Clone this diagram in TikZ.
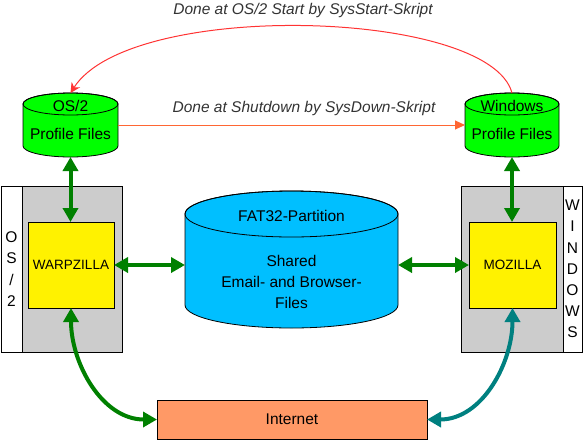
\documentclass[tikz,border=0pt]{standalone}
\usepackage{fontspec}
\setmainfont{Liberation Sans}
\usepackage{tikz}
\usepackage{xcolor}
\usetikzlibrary{arrows.meta}
\usetikzlibrary{calc}
\usetikzlibrary{positioning}

\definecolor{profgreen}{HTML}{00FF00}
\definecolor{fatblue}{HTML}{00BFFF}
\definecolor{boxgray}{HTML}{CCCCCC}
\definecolor{netorange}{HTML}{FF9966}
\definecolor{darkgreen}{HTML}{008000}
\definecolor{netteal}{HTML}{008080}
\definecolor{arcred}{HTML}{FF3333}
\definecolor{linered}{HTML}{FF6633}
\definecolor{notegray}{HTML}{333333}

% name, colour, x radius, y radius of the end ellipse
\newcommand{\drawdisk}[4]{%
  \draw[diskline, fill = #2] ($(#1.north west)+(0,#4)$) -- ($(#1.south west)+(0,-#4)$)
      arc[start angle = 180, end angle = 360, x radius = #3pt, y radius = #4pt]
      -- ($(#1.north east)+(0,#4)$)
      arc[start angle = 0, end angle = 180, x radius = #3pt, y radius = #4pt] -- cycle;
  \draw[diskline] ($(#1.north)+(0,#4)$) ellipse[x radius = #3pt, y radius = #4pt];
}

\begin{document}
\begin{tikzpicture}
  [
    x = 1pt, y = -1pt,
    base/.style = {font = \fontsize{15.5}{21}\selectfont, inner sep = 0pt, outer sep = 0pt},
    disk/.style = {base, rectangle},
    diskline/.style = {draw = black, line width = 0.8pt},
    osbox/.style = {base, rectangle, draw, line width = 0.8pt, fill = boxgray,
                    minimum width = 100pt, minimum height = 166pt},
    side/.style = {base, rectangle, draw, line width = 0.8pt, fill = white,
                   minimum height = 166pt, align = center,
                   font = \fontsize{15.5}{21.2}\selectfont},
    app/.style = {base, rectangle, draw, line width = 0.8pt, fill = yellow,
                  minimum width = 86pt, minimum height = 86pt,
                  font = \fontsize{13.5}{16}\selectfont},
    net/.style = {base, rectangle, draw, line width = 0.8pt, fill = netorange,
                  minimum width = 270pt, minimum height = 39pt},
    label/.style = {base, align = center},
    note/.style = {base, font = \fontsize{15.5}{18}\selectfont\itshape, text = notegray,
                   anchor = base},
    arrow/.style = {line width = 4pt,
                    {Triangle[length = 14pt, width = 15pt]}-{Triangle[length = 14pt, width = 15pt]}},
    arrow-sync/.style = {draw = linered, line width = 1pt,
                         -{Triangle[length = 10pt, width = 9pt]}},
    arrow-start/.style = {draw = arcred, line width = 1pt,
                          -{Stealth[length = 10pt, width = 10pt]}},
  ]
  \useasboundingbox (0,0) rectangle (583,440);

  \node[osbox] (os2box) at (72,269) {};
  \node[side, minimum width = 21pt, left = 0pt of os2box] (os2side) {O\\S\\/\\2};
  \node[app] (warp) at (71,265) {WARPZILLA};

  \node[osbox, minimum width = 102pt] (winbox) at (512,269) {};
  \node[side, minimum width = 19pt, right = 0pt of winbox] (winside) {W\\I\\N\\D\\O\\W\\S};
  \node[app, minimum width = 87pt] (moz) at (512.5,265) {MOZILLA};

  \node[disk, minimum width = 95pt, minimum height = 64pt] (os2prof) at (70.5,125) {};
  \drawdisk{os2prof}{profgreen}{47.5}{11}
  \node[label, anchor = base] (os2prof_top) at (70.5,111) {OS/2};
  \node[label, anchor = base] (os2prof_body) at (70.5,139) {Profile Files};

  \node[disk, minimum width = 94pt, minimum height = 64pt] (winprof) at (512,125) {};
  \drawdisk{winprof}{profgreen}{47}{11}
  \node[label, anchor = base] (winprof_top) at (512,111) {Windows};
  \node[label, anchor = base] (winprof_body) at (512,139) {Profile Files};

  \node[disk, minimum width = 213pt, minimum height = 137pt] (fat) at (291.5,259.5) {};
  \drawdisk{fat}{fatblue}{106.5}{23}
  \node[label, anchor = base] (fat_top) at (291.5,221) {FAT32-Partition};
  \node[label] (fat_body) at (291.5,282) {Shared\\Email- and Browser-\\Files};

  \node[net] (inet) at (292,419.5) {Internet};

  \node[note] (startnote) at (303,14) {Done at OS/2 Start by SysStart-Skript};
  \node[note] (downnote) at (304,112) {Done at Shutdown by SysDown-Skript};

  \draw[arrow, darkgreen] (os2prof.south) -- (os2prof.south |- warp.north);
  \draw[arrow, darkgreen] (winprof.south) -- (winprof.south |- moz.north);
  \draw[arrow, darkgreen] (warp.east) -- (warp.east -| fat.west);
  \draw[arrow, darkgreen] (moz.west) -- (moz.west -| fat.east);
  \draw[arrow, darkgreen] (warp.south) to[out = -90, in = 180] (inet.west);
  \draw[arrow, netteal] (moz.south) to[out = -90, in = 0] (inet.east);

  \draw[arrow-sync] (os2prof.east) -- (winprof.west);
  \draw[arrow-start] (winprof.north) .. controls +(-22,-84) and +(60,-94) .. (os2prof.north);
\end{tikzpicture}
\end{document}
